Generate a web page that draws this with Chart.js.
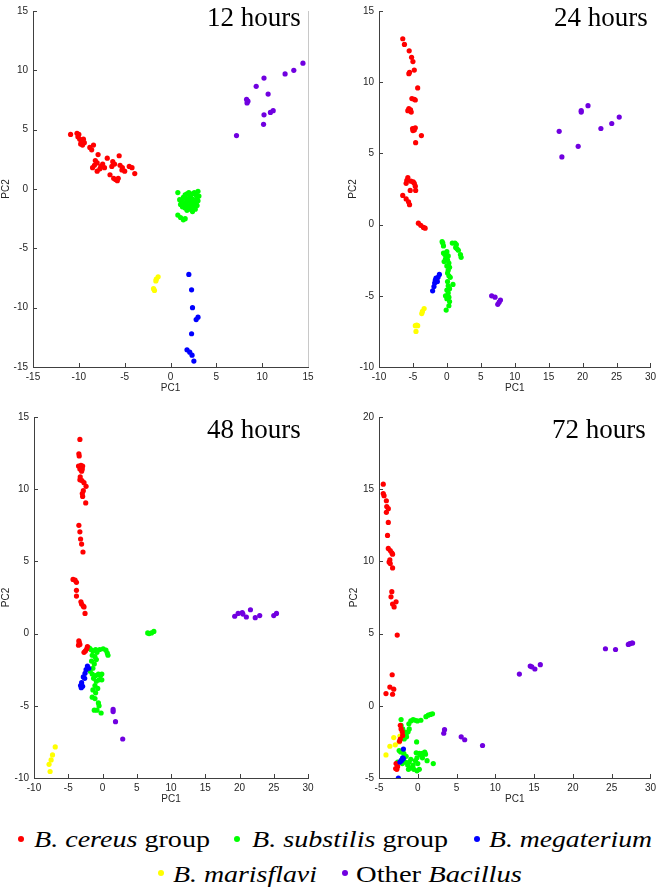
<!DOCTYPE html>
<html>
<head>
<meta charset="utf-8">
<script src="https://cdn.jsdelivr.net/npm/chart.js@4.4.0/dist/chart.umd.min.js"></script>
<style>
  html, body { margin: 0; padding: 0; background: #fff; }
  body { width: 660px; height: 888px; position: relative; overflow: hidden; }
  .panel { position: absolute; }
  .ttl { position: absolute; font-family: 'Liberation Serif', 'Times New Roman', serif; font-size: 27px; line-height: 27px; color: #000; white-space: nowrap; }
  .dot { position: absolute; width: 6px; height: 6px; border-radius: 50%; }
  .lt { position: absolute; font-family: 'Liberation Serif', 'Times New Roman', serif; font-size: 23px; line-height: 23px; color: #000; white-space: nowrap; transform-origin: 0 0; }
</style>
</head>
<body>
<canvas id="c12" class="panel" width="330" height="400" style="left:0;top:0"></canvas>
<canvas id="c24" class="panel" width="330" height="400" style="left:330px;top:0"></canvas>
<canvas id="c48" class="panel" width="330" height="420" style="left:0;top:400px"></canvas>
<canvas id="c72" class="panel" width="330" height="420" style="left:330px;top:400px"></canvas>

<div class="ttl" id="t12" style="top:4px;">12 hours</div>
<div class="ttl" id="t24" style="top:4px;">24 hours</div>
<div class="ttl" id="t48" style="top:416px;">48 hours</div>
<div class="ttl" id="t72" style="top:416px;">72 hours</div>

<div class="dot" style="left:18px;top:836px;background:#ff0000"></div>
<div class="lt" id="L1" style="left:34px;top:828px"><i>B. cereus</i> group</div>
<div class="dot" style="left:234px;top:836px;background:#00ff00"></div>
<div class="lt" id="L2" style="left:252px;top:828px"><i>B. substilis</i> group</div>
<div class="dot" style="left:474px;top:836px;background:#0000ff"></div>
<div class="lt" id="L3" style="left:489px;top:828px"><i>B. megaterium</i></div>
<div class="dot" style="left:158px;top:870px;background:#ffff00"></div>
<div class="lt" id="L4" style="left:173px;top:863px"><i>B. marisflavi</i></div>
<div class="dot" style="left:342px;top:870px;background:#7000e0"></div>
<div class="lt" id="L5" style="left:356px;top:863px">Other <i>Bacillus</i></div>

<script>
// ---------------- data ----------------
const groupNames = ['B. cereus group', 'B. substilis group', 'B. megaterium', 'B. marisflavi', 'Other Bacillus'];
const panelTitles = ['12 hours', '24 hours', '48 hours', '72 hours'];

// 12 hours
const h12_cereus = [[-10.9,4.6],[-10.2,4.7],[-10.0,4.6],[-10.1,4.4],[-9.9,4.2],[-9.7,4.0],[-9.8,3.8],[-9.5,4.2],[-9.4,3.9],[-9.6,3.7],
  [-8.8,3.5],[-8.6,3.3],[-8.4,3.7],[-7.9,2.9],[-8.2,2.4],[-8.0,2.2],[-8.5,1.8],[-8.0,1.5],[-7.6,1.9],[-7.4,2.1],
  [-6.9,2.6],[-7.7,1.7],[-6.3,2.3],[-6.4,1.9],[-5.6,2.8],[-5.5,2.0],[-5.25,1.8],[-6.6,1.2],[-6.2,0.9],[-6.0,0.8],
  [-5.8,0.7],[-5.7,0.9],[-5.0,1.5],[-4.5,1.9],[-4.2,1.8],[-3.9,1.3],[-5.3,1.6],[-6.1,2.1],[-7.2,1.8],[-8.3,2.0]];
const h12_subtilis = [[1.2,-1.0],[1.4,-0.7],[1.6,-0.5],[1.8,-0.4],[2.0,-0.3],[2.2,-0.5],[2.4,-0.4],[2.6,-0.3],[2.8,-0.5],[3.0,-0.2],
  [3.1,-0.6],[2.9,-0.8],[2.7,-1.0],[2.5,-0.9],[2.3,-0.8],[2.1,-0.9],[1.9,-1.0],[1.7,-1.1],[1.5,-1.3],[1.3,-1.5],
  [1.6,-1.6],[1.9,-1.4],[2.2,-1.3],[2.5,-1.2],[2.8,-1.2],[3.0,-1.0],[2.6,-1.5],[2.3,-1.6],[2.0,-1.7],[1.8,-1.8],
  [2.4,-1.9],[2.7,-1.7],[1.1,-1.3],[1.0,-0.9],[2.1,-0.6],[1.7,-0.8],[2.9,-1.4],[2.2,-1.1],
  [0.8,-2.2],[1.1,-2.4],[1.4,-2.6],[1.6,-2.5],[0.8,-0.3]];
const h12_megaterium = [[2.0,-7.2],[2.3,-8.5],[2.4,-10.0],[3.0,-10.8],[2.8,-11.0],[2.3,-12.2],[1.8,-13.55],[2.1,-13.75],[2.35,-14.0],[2.55,-14.5]];
const h12_marisflavi = [[-1.35,-7.4],[-1.55,-7.6],[-1.6,-7.75],[-1.85,-8.4],[-1.75,-8.55]];
const h12_other = [[14.45,10.6],[13.45,10.0],[12.5,9.7],[10.2,9.35],[9.35,8.65],[10.65,8.0],[8.3,7.55],[8.35,7.25],[8.45,7.4],
  [11.2,6.6],[10.9,6.45],[10.2,6.25],[10.15,5.45],[7.2,4.5]];

// 24 hours
const h24_cereus = [[-6.5,13.05],[-6.25,12.65],[-5.55,12.2],[-5.2,11.75],[-5.0,11.45],[-5.5,10.7],[-5.6,10.6],[-4.8,10.85],[-4.3,9.6],
  [-5.15,8.85],[-4.8,8.8],[-4.65,8.75],[-5.6,8.15],[-5.35,8.05],[-5.75,8.0],[-5.25,7.9],[-5.05,6.75],[-4.8,6.65],[-5.0,6.6],[-4.65,6.8],
  [-3.75,6.25],[-4.6,5.75],[-5.75,3.3],[-5.9,3.1],[-6.0,2.9],[-5.3,3.05],[-4.95,3.0],[-4.8,2.9],[-4.65,2.7],[-5.4,2.4],[-4.6,2.4],
  [-6.5,2.05],[-6.0,1.8],[-5.65,1.6],[-5.5,1.4],[-4.2,0.1],[-3.85,-0.05],[-3.45,-0.2],[-3.2,-0.25]];
const h24_subtilis = [[-0.7,-1.2],[-0.6,-1.3],[-0.5,-1.5],[-0.5,-2.0],[-0.3,-2.1],[0.0,-1.9],[0.2,-2.2],[-0.2,-2.4],[0.1,-2.5],[-0.4,-2.6],
  [0.3,-2.7],[0.0,-2.9],[0.4,-3.0],[0.2,-3.2],[0.1,-3.4],[0.3,-3.6],[0.5,-3.7],[0.1,-4.0],[0.2,-4.3],[0.9,-4.2],[0.0,-4.6],[0.2,-4.8],
  [0.4,-4.5],[-0.2,-5.0],[0.0,-5.2],[0.3,-5.1],[0.4,-5.4],[0.3,-5.7],[-0.1,-6.0],[0.8,-1.3],[1.2,-1.3],[1.4,-1.4],[1.3,-1.6],[1.5,-1.7],
  [1.7,-1.8],[2.0,-2.1],[2.1,-2.3]];
const h24_megaterium = [[-2.1,-4.65],[-1.9,-4.35],[-1.8,-4.1],[-1.6,-4.0],[-1.5,-3.8],[-1.3,-3.7],[-1.1,-3.5],[-1.7,-3.9],[-1.4,-4.0],[-1.6,-3.75]];
const h24_marisflavi = [[-3.35,-5.9],[-3.6,-6.1],[-3.7,-6.25],[-4.45,-7.05],[-4.65,-7.1],[-4.3,-7.1],[-4.55,-7.5]];
const h24_other = [[16.55,6.55],[16.95,4.75],[19.35,5.5],[19.8,8.0],[19.8,7.9],[20.8,8.35],[22.7,6.75],[24.3,7.1],[25.4,7.55],
  [6.6,-5.0],[7.1,-5.1],[7.5,-5.6],[7.9,-5.3],[7.7,-5.45]];

// 48 hours
const h48_cereus = [[-3.3,13.45],[-3.45,12.45],[-3.4,12.3],[-3.5,11.6],[-3.15,11.65],[-2.9,11.6],[-3.3,11.4],[-2.95,11.4],[-3.05,11.25],
  [-3.25,10.85],[-3.3,10.65],[-3.0,10.6],[-2.7,10.45],[-2.4,10.2],[-2.8,9.9],[-2.95,9.7],[-2.9,9.5],[-2.45,9.05],[-3.45,7.5],[-3.3,7.05],
  [-3.2,6.55],[-3.05,6.2],[-2.85,5.65],[-4.3,3.75],[-4.0,3.7],[-3.8,3.55],[-3.8,3.0],[-3.8,2.6],[-3.15,2.2],[-3.05,2.05],[-2.8,1.9],
  [-2.7,1.85],[-2.55,1.4],[-3.45,-0.5],[-3.4,-0.6],[-3.3,-0.75],[-3.5,-0.8],[-2.2,-0.9],[-2.3,-1.05],[-2.5,-1.2],[-2.7,-1.3]];
const h48_subtilis = [[-1.9,-1.0],[-1.7,-1.1],[-1.4,-1.2],[-1.0,-1.1],[-0.8,-1.3],[-1.5,-1.5],[-1.1,-1.6],[-0.9,-1.8],[-1.6,-1.9],[-1.2,-2.1],
  [-1.4,-2.4],[-1.8,-2.6],[-1.5,-2.8],[-1.0,-2.9],[-0.6,-2.8],[-1.3,-3.1],[-0.9,-3.3],[-0.5,-3.2],[-1.1,-3.6],[-0.7,-3.8],[-1.4,-3.9],
  [-1.0,-4.1],[-1.5,-4.4],[-1.1,-4.5],[-0.6,-4.8],[-0.5,-5.0],[-0.8,-5.3],[-1.2,-5.3],[-0.2,-5.5],[-0.4,-1.1],[0.1,-1.05],[0.5,-1.15],
  [0.7,-1.35],[0.8,-1.5],[-0.1,-2.8],[-0.1,-3.2],[-0.3,-2.9],[6.6,0.05],[6.8,0.0],[7.15,0.05],[7.5,0.15]];
const h48_megaterium = [[-2.2,-2.25],[-2.4,-2.5],[-2.55,-2.75],[-2.8,-3.0],[-3.05,-3.4],[-3.2,-3.6],[-2.9,-3.65],[-3.1,-3.75],[-2.6,-3.1],[-2.0,-2.4]];
const h48_marisflavi = [[-6.9,-7.85],[-7.3,-8.4],[-7.5,-8.75],[-7.8,-9.05],[-7.65,-9.55]];
const h48_other = [[19.3,1.2],[19.8,1.4],[20.4,1.45],[20.5,1.35],[21.0,1.15],[21.6,1.65],[22.3,1.1],[22.95,1.25],[25.0,1.25],[25.4,1.4],
  [1.55,-5.25],[1.55,-5.4],[1.9,-6.1],[2.95,-7.3]];

// 72 hours
const h72_cereus = [[-4.45,15.35],[-4.45,14.7],[-4.35,14.55],[-4.05,14.2],[-4.0,13.8],[-3.8,13.65],[-4.05,13.4],[-3.8,12.7],[-3.9,11.8],
  [-3.8,10.9],[-3.55,10.75],[-3.35,10.6],[-3.25,10.5],[-3.6,10.1],[-3.55,9.85],[-3.7,9.95],[-3.25,9.55],[-3.35,7.9],[-3.45,7.55],
  [-3.25,7.05],[-3.05,6.85],[-2.8,7.2],[-2.65,4.9],[-3.3,2.15],[-3.6,1.3],[-3.1,1.15],[-4.1,0.85],[-3.25,0.8],
  [-2.25,-1.35],[-2.15,-1.6],[-2.0,-1.8],[-1.95,-2.05],[-2.25,-2.3],[-2.35,-2.45],[-2.8,-4.0],[-2.6,-4.2],[-2.85,-4.35],[-2.7,-4.4]];
const h72_subtilis = [[-1.15,-1.25],[-0.9,-1.05],[-0.6,-0.95],[-0.35,-1.0],[-0.05,-1.05],[0.4,-1.0],[1.05,-0.75],[1.35,-0.65],[1.65,-0.6],
  [1.9,-0.55],[-2.15,-0.95],[-2.15,-1.35],[-1.95,-1.6],[-1.75,-1.8],[-1.5,-1.95],[-1.45,-2.15],[-1.75,-2.3],[-0.15,-2.5],[-1.1,-1.6],
  [-1.25,-1.8],[-0.2,-3.25],[0.2,-3.3],[0.4,-3.4],[0.6,-3.3],[1.0,-3.35],[-0.1,-3.6],[-0.3,-3.8],[-0.9,-3.7],[-1.1,-3.9],[-1.3,-4.1],
  [-0.9,-4.3],[-0.5,-4.4],[-0.1,-4.5],[0.2,-4.4],[-0.6,-4.1],[1.2,-3.8],[2.0,-4.0],[-1.5,-3.5],[-1.8,-3.3],[-2.4,-3.1],[-2.2,-3.2],
  [-2.6,-3.9],[-2.0,-4.0],[-1.2,-4.4],[0.6,-3.6],[0.9,-3.2],[0.0,-4.0],[-1.6,-3.9]];
const h72_megaterium = [[-1.85,-3.0],[-1.95,-3.6],[-2.15,-3.8],[-2.3,-3.9],[-2.05,-3.75],[-1.85,-3.65],[-2.5,-5.0]];
const h72_marisflavi = [[-4.1,-3.4],[-3.6,-2.8],[-3.1,-2.2],[-2.9,-2.7],[-2.3,-2.1],[-2.4,-2.5]];
const h72_other = [[13.1,2.2],[14.5,2.75],[14.7,2.7],[15.1,2.55],[15.8,2.85],[24.2,3.95],[25.5,3.9],[27.15,4.25],[27.35,4.3],[27.6,4.35],
  [27.7,4.35],[3.45,-1.65],[3.35,-1.9],[5.6,-2.15],[6.05,-2.35],[8.35,-2.75]];

// tick labels
const ticks12X = [-15,-10,-5,0,5,10,15];
const ticks12Y = [-15,-10,-5,0,5,10,15];
const ticks24X = [-10,-5,0,5,10,15,20,25,30];
const ticks24Y = [-10,-5,0,5,10,15];
const ticks48X = [-10,-5,0,5,10,15,20,25,30];
const ticks48Y = [-10,-5,0,5,10,15];
const ticks72X = [-5,0,5,10,15,20,25,30];
const ticks72Y = [-5,0,5,10,15,20];

// ---------------- styling ----------------
const colors = ['#ff0000', '#00ff00', '#0000ff', '#ffff00', '#7000e0'];
const drawOrder = [1, 4, 0, 2, 3]; // lower = drawn on top
const axisColor = '#404040';
const tickFont = { family: "'Liberation Sans', Arial, sans-serif", size: 10 };

const inwardTicks = {
  id: 'inwardTicks',
  afterDraw(chart, args, opts) {
    const { ctx, chartArea: a, scales: { x, y } } = chart;
    ctx.save();
    ctx.strokeStyle = axisColor;
    ctx.lineWidth = 1;
    ctx.beginPath();
    x.ticks.forEach(t => {
      const px = Math.round(x.getPixelForValue(t.value)) + 0.5;
      ctx.moveTo(px, a.bottom); ctx.lineTo(px, a.bottom - 4);
    });
    y.ticks.forEach(t => {
      const py = Math.round(y.getPixelForValue(t.value)) + 0.5;
      ctx.moveTo(a.left, py); ctx.lineTo(a.left + 4, py);
    });
    ctx.stroke();
    if (opts && opts.rightLine) {
      ctx.strokeStyle = '#c8c8c8';
      ctx.beginPath();
      ctx.moveTo(Math.round(a.right) + 0.5, a.top);
      ctx.lineTo(Math.round(a.right) + 0.5, a.bottom);
      ctx.stroke();
    }
    ctx.restore();
  }
};

function makePanel(id, groups, xt, yt, geo) {
  const datasets = groups.map((pts, i) => ({
    label: groupNames[i],
    data: pts.map(p => ({ x: p[0], y: p[1] })),
    backgroundColor: colors[i],
    borderWidth: 0,
    pointRadius: 2.6,
    pointHoverRadius: 2.6,
    order: drawOrder[i]
  }));
  return new Chart(document.getElementById(id), {
    type: 'scatter',
    data: { datasets },
    options: {
      responsive: false,
      animation: false,
      events: [],
      layout: { padding: { top: geo.top, right: geo.right, left: 0, bottom: 0 } },
      plugins: { legend: { display: false }, tooltip: { enabled: false }, inwardTicks: { rightLine: !!geo.rightLine } },
      scales: {
        x: {
          type: 'linear', min: xt[0], max: xt[xt.length - 1],
          afterBuildTicks: s => { s.ticks = xt.map(v => ({ value: v })); },
          afterFit: s => { s.height = geo.xh; },
          grid: { display: false, drawTicks: false },
          border: { display: true, color: axisColor, width: 1 },
          ticks: { font: tickFont, color: '#262626', padding: 4, maxRotation: 0, autoSkip: false },
          title: { display: true, text: 'PC1', font: tickFont, color: '#262626', padding: { top: 0, bottom: geo.xtp } }
        },
        y: {
          type: 'linear', min: yt[0], max: yt[yt.length - 1],
          afterBuildTicks: s => { s.ticks = yt.map(v => ({ value: v })); },
          afterFit: s => { s.width = geo.yw; },
          grid: { display: false, drawTicks: false },
          border: { display: true, color: axisColor, width: 1 },
          ticks: { font: tickFont, color: '#262626', padding: 5, autoSkip: false },
          title: { display: true, text: 'PC2', font: tickFont, color: '#262626', padding: { top: geo.ytp, bottom: 0 } }
        }
      }
    },
    plugins: [inwardTicks]
  });
}

makePanel('c12', [h12_cereus, h12_subtilis, h12_megaterium, h12_marisflavi, h12_other], ticks12X, ticks12Y,
  { top: 5, right: 22, xh: 33, yw: 33, xtp: 6, ytp: 0, rightLine: true });
makePanel('c24', [h24_cereus, h24_subtilis, h24_megaterium, h24_marisflavi, h24_other], ticks24X, ticks24Y,
  { top: 5, right: 6, xh: 33, yw: 49, xtp: 6, ytp: 17 });
makePanel('c48', [h48_cereus, h48_subtilis, h48_megaterium, h48_marisflavi, h48_other], ticks48X, ticks48Y,
  { top: 17, right: 22, xh: 42, yw: 34, xtp: 15, ytp: 0 });
makePanel('c72', [h72_cereus, h72_subtilis, h72_megaterium, h72_marisflavi, h72_other], ticks72X, ticks72Y,
  { top: 17, right: 6, xh: 42, yw: 49, xtp: 15, ytp: 18 });

// panel titles (right edges)
const titleRight = { t12: 301, t24: 648, t48: 301, t72: 646 };
['t12', 't24', 't48', 't72'].forEach((id, i) => {
  const el = document.getElementById(id);
  el.textContent = panelTitles[i];
  el.style.left = (titleRight[id] - el.offsetWidth) + 'px';
});

// legend text widths
const legendWidths = { L1: 176, L2: 196, L3: 163, L4: 144, L5: 166 };
Object.keys(legendWidths).forEach(id => {
  const el = document.getElementById(id);
  const w = el.getBoundingClientRect().width;
  el.style.transform = 'scaleX(' + (legendWidths[id] / w) + ')';
});
</script>
</body>
</html>
